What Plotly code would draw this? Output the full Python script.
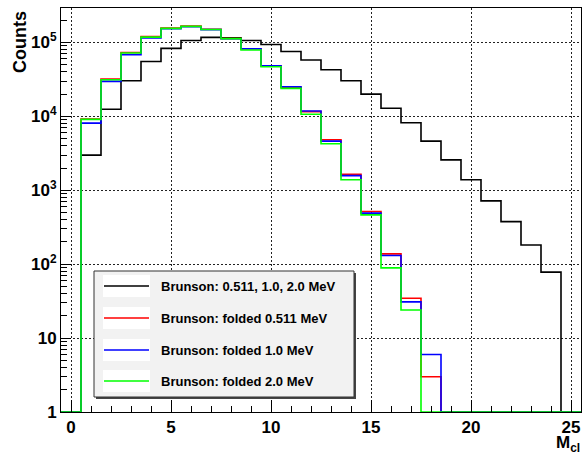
import plotly.graph_objects as go

# ---------------- data ----------------
bin_centers = list(range(0, 26))          # M_cl bins, width 1, from -0.5 to 25.5
bin_width = 1.0

brunson_all = [0, 2990, 12500, 30300, 55300, 83000, 106000, 117000, 116000, 106000,
               94000, 75500, 57800, 42700, 30300, 20000, 12900, 8180, 4620, 2580,
               1385, 719, 377, 182, 78, 0]
folded_0511 = [0, 9180, 31900, 73200, 120000, 156000, 166000, 151000, 113000, 82200,
               48400, 24800, 11600, 4820, 1650, 515, 138, 34.6, 3, 0,
               0, 0, 0, 0, 0, 0]
folded_10 = [0, 8110, 29700, 68200, 115000, 153000, 163000, 149000, 112000, 82000,
             48400, 25100, 11800, 4620, 1580, 490, 131, 30.9, 6, 0,
             0, 0, 0, 0, 0, 0]
folded_20 = [0, 9100, 31300, 71900, 118000, 155000, 165000, 150000, 112500, 78900,
             46900, 23900, 10700, 4250, 1385, 465, 89, 24, 0, 0,
             0, 0, 0, 0, 0, 0]

series_names = ["Brunson: 0.511, 1.0, 2.0 MeV", "Brunson: folded 0.511 MeV",
                "Brunson: folded 1.0 MeV", "Brunson: folded 2.0 MeV"]
series_colors = ["#000000", "#ff0000", "#0000ff", "#00ff00"]
series_values = [brunson_all, folded_0511, folded_10, folded_20]

y_tick_vals = [1, 10, 100, 1000, 10000, 100000]
y_tick_text = ["1", "10", "10<sup>2</sup>", "10<sup>3</sup>", "10<sup>4</sup>", "10<sup>5</sup>"]
x_tick_vals = [0, 5, 10, 15, 20, 25]

# ---------------- geometry ----------------
W, H = 583, 455
ML, MR, MT, MB = 61, 2, 8, 43
PW, PH = W - ML - MR, H - MT - MB
Y_FLOOR = 1.0  # axis minimum on the log scale (empty bins sit here)


def px_x(p):
    return (p - ML) / PW


def px_y(p):
    return (H - MB - p) / PH


FONT = "Liberation Sans, Arial, Helvetica, sans-serif"

fig = go.Figure()

edges = [c - bin_width / 2 for c in bin_centers] + [bin_centers[-1] + bin_width / 2]
for name, col, vals in zip(series_names, series_colors, series_values):
    yv = [max(v, Y_FLOOR) for v in vals]
    fig.add_trace(go.Scatter(
        x=edges, y=yv + [yv[-1]], mode="lines", name=name,
        line=dict(color=col, width=1.6, shape="hv"), showlegend=False,
        hoverinfo="skip"))

minor_y = [k * 10 ** d for d in range(0, 6) for k in range(2, 10)]

fig.update_layout(
    width=W, height=H,
    margin=dict(l=ML, r=MR, t=MT, b=MB, pad=0),
    paper_bgcolor="white", plot_bgcolor="white",
    font=dict(family=FONT, color="black"),
    showlegend=False,
    xaxis=dict(
        range=[edges[0], edges[-1]], tickmode="array", tickvals=x_tick_vals,
        ticks="inside", ticklen=12, tickwidth=1, tickcolor="black",
        minor=dict(dtick=1, ticks="inside", ticklen=6, tickcolor="black", showgrid=False),
        showline=True, linecolor="black", linewidth=1, mirror=True,
        showgrid=True, gridcolor="#222", griddash="2px,2px", gridwidth=1,
        zeroline=False,
        tickfont=dict(size=17, family=FONT, weight="bold", color="black"),
    ),
    yaxis=dict(
        type="log", range=[0, 5.466], tickmode="array",
        tickvals=y_tick_vals, ticktext=y_tick_text,
        ticks="inside", ticklen=10, tickwidth=1, tickcolor="black",
        minor=dict(tickmode="array", tickvals=minor_y, ticks="inside", ticklen=6,
                   tickcolor="black", showgrid=False),
        showline=True, linecolor="black", linewidth=1, mirror=True,
        showgrid=True, gridcolor="#222", griddash="2px,2px", gridwidth=1,
        zeroline=False,
        tickfont=dict(size=17, family=FONT, weight="bold", color="black"),
    ),
)

# axis titles
fig.add_annotation(text="Counts", xref="paper", yref="paper",
                   x=px_x(20), y=px_y(9), xanchor="center", yanchor="top",
                   textangle=-90, showarrow=False,
                   font=dict(size=18, family=FONT, weight="bold", color="black"))
fig.add_annotation(text="M<sub>cl</sub>", xref="paper", yref="paper",
                   x=px_x(581), y=px_y(456), xanchor="right", yanchor="bottom",
                   showarrow=False, borderpad=0,
                   font=dict(size=17, family=FONT, weight="bold", color="black"))

# legend box (ROOT style)
LX0, LX1, LY0, LY1 = 94, 354, 271, 397
fig.add_shape(type="rect", xref="paper", yref="paper",
              x0=px_x(LX0 + 2), x1=px_x(LX1 + 2), y0=px_y(LY0 + 2), y1=px_y(LY1 + 2),
              fillcolor="#444", line=dict(width=0), layer="above")
fig.add_shape(type="rect", xref="paper", yref="paper",
              x0=px_x(LX0), x1=px_x(LX1), y0=px_y(LY0), y1=px_y(LY1),
              fillcolor="#f2f2f2", line=dict(color="#333", width=1), layer="above")
row_y = [286, 318, 350, 381]
for name, col, ry in zip(series_names, series_colors, row_y):
    fig.add_shape(type="rect", xref="paper", yref="paper",
                  x0=px_x(103), x1=px_x(150), y0=px_y(ry - 11), y1=px_y(ry + 11),
                  fillcolor="white", line=dict(width=0), layer="above")
    fig.add_shape(type="line", xref="paper", yref="paper",
                  x0=px_x(104), x1=px_x(149), y0=px_y(ry), y1=px_y(ry),
                  line=dict(color=col, width=1.6), layer="above")
    fig.add_annotation(text=name, xref="paper", yref="paper",
                       x=px_x(159), y=px_y(ry), xanchor="left", yanchor="middle",
                       showarrow=False,
                       font=dict(size=13, family=FONT, weight="bold", color="black"))

fig.write_html("out.html")
